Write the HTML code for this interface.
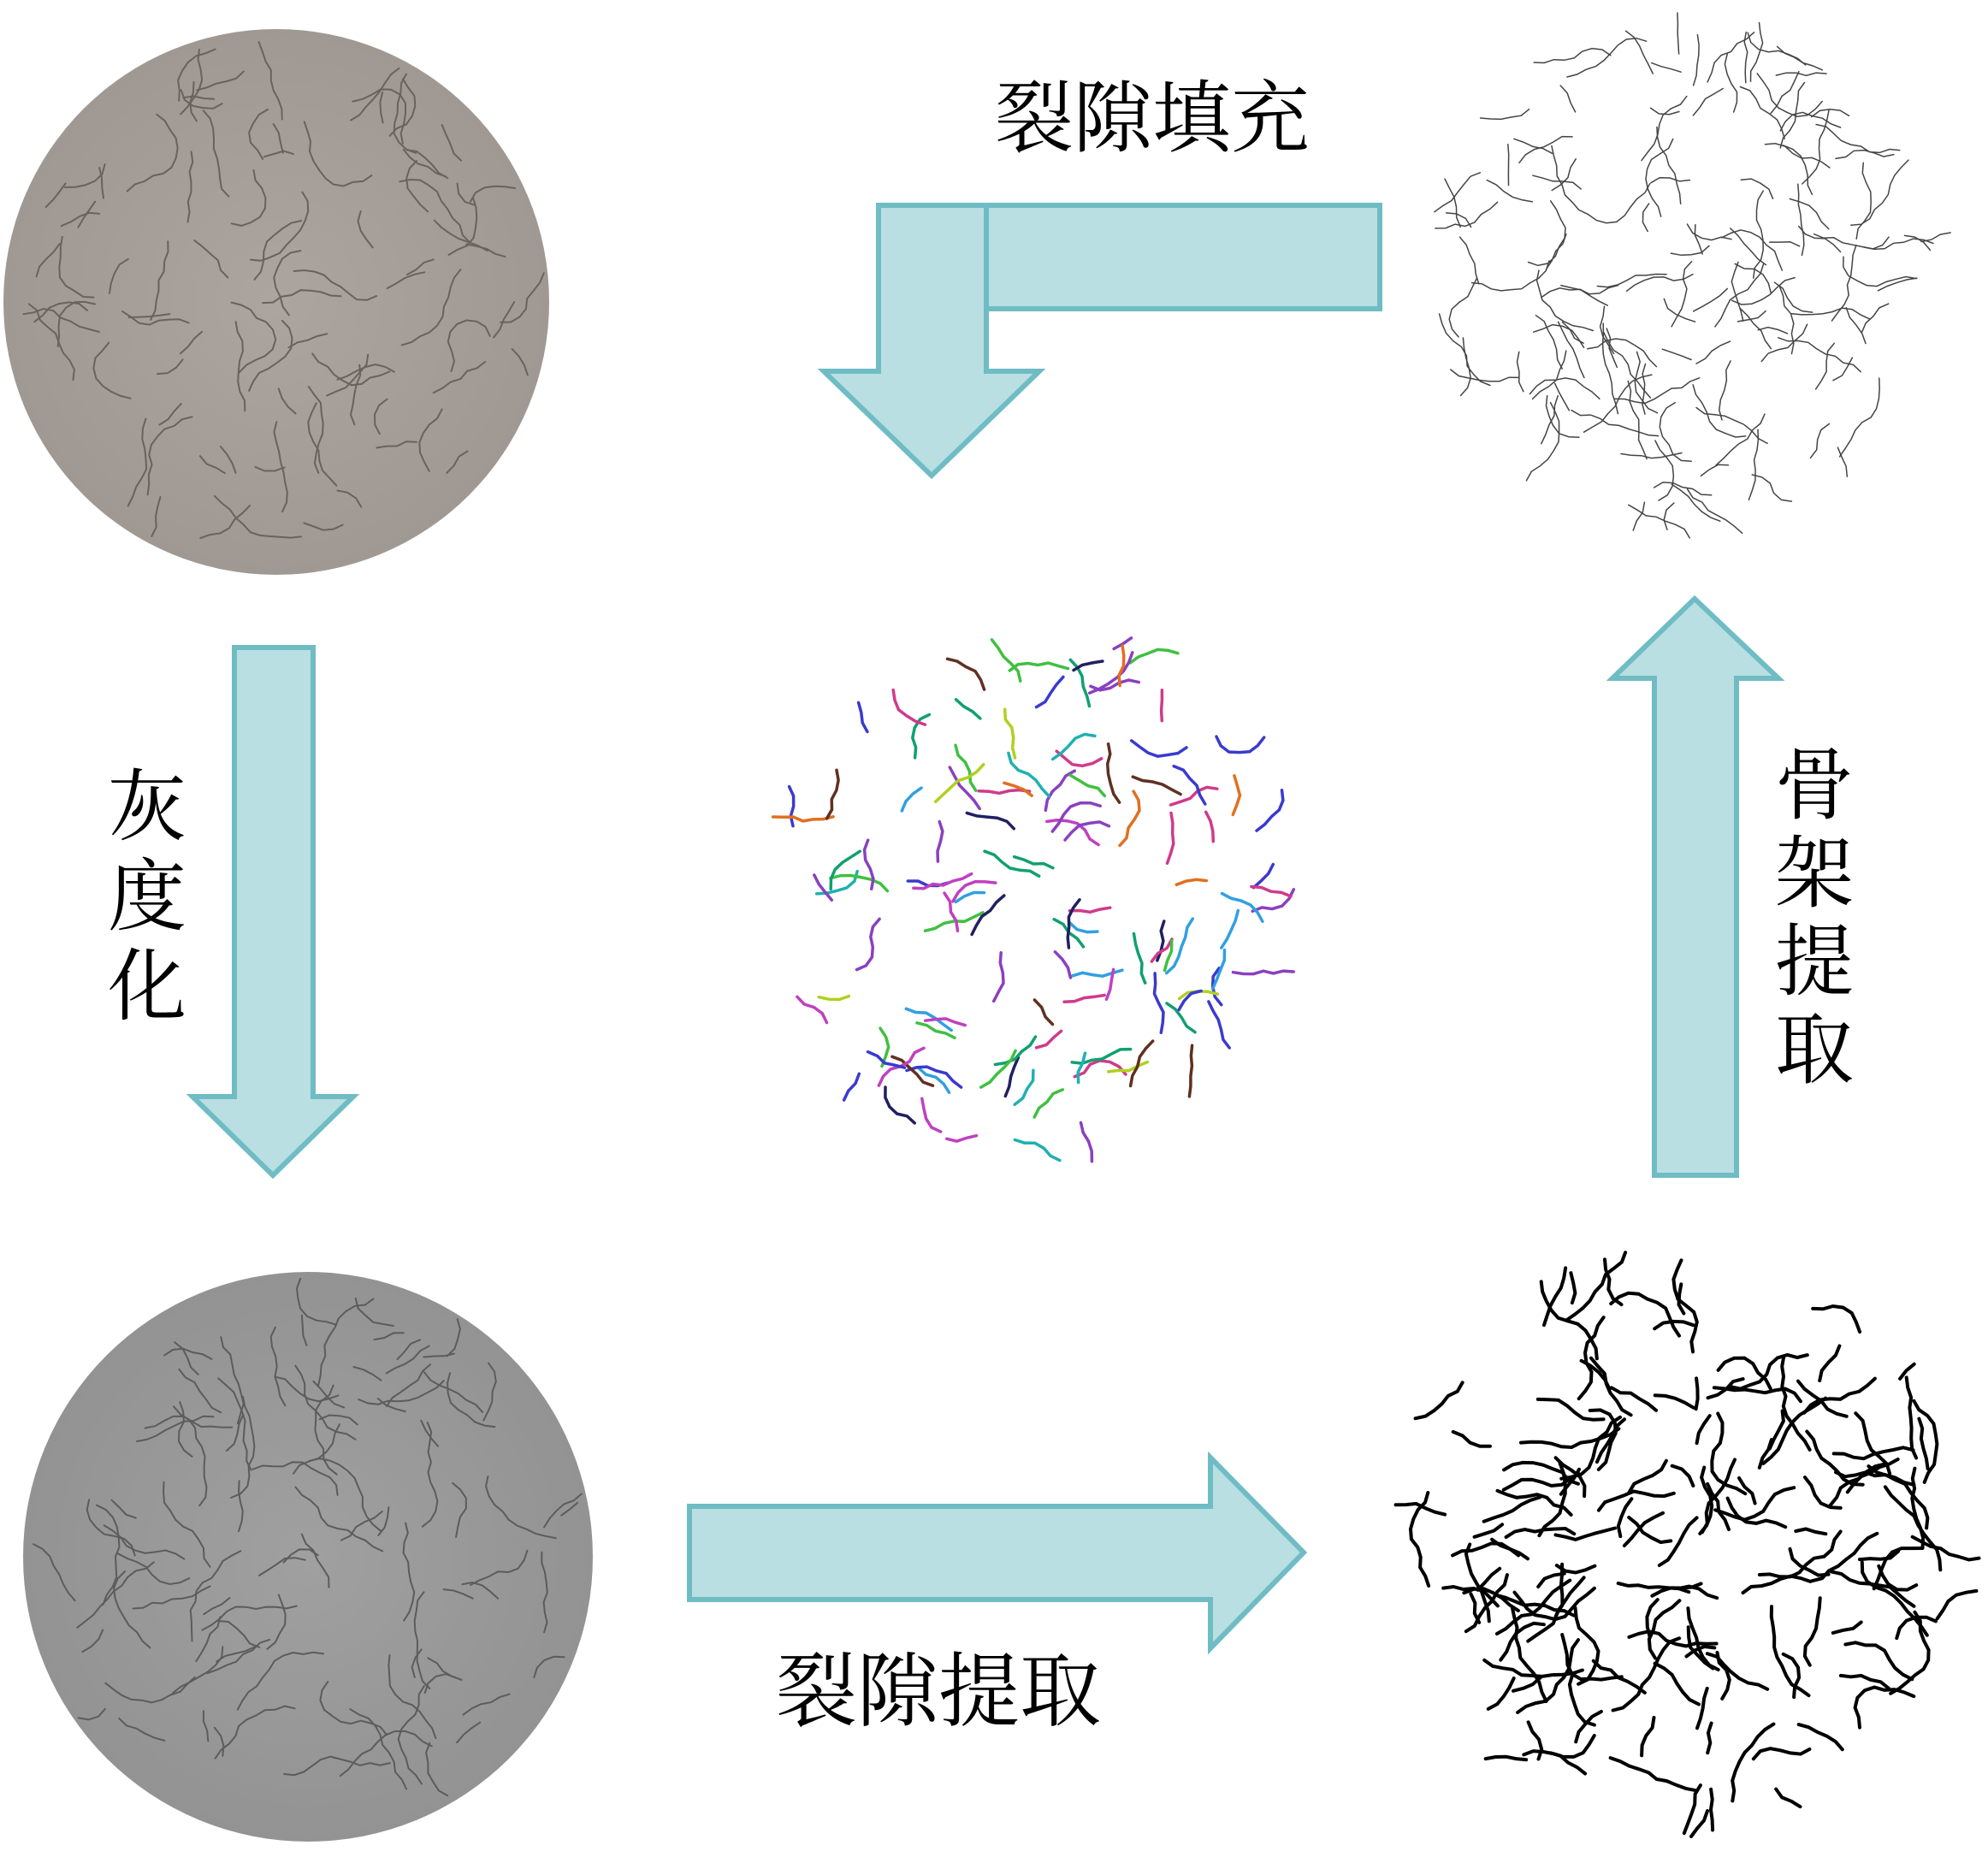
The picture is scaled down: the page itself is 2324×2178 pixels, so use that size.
<!DOCTYPE html>
<html><head><meta charset="utf-8"><style>
html,body{margin:0;padding:0;background:#fff;}
svg{display:block}
text{font-family:"Liberation Serif","Noto Serif CJK SC","Noto Sans CJK SC",serif;fill:#000}
</style></head><body>
<svg id="s" width="2324" height="2178" viewBox="0 0 2324 2178" xmlns="http://www.w3.org/2000/svg">
<defs>
<radialGradient id="g1" cx="50%" cy="50%" r="50%"><stop offset="0" stop-color="#aca59f"/><stop offset="1" stop-color="#a09993"/></radialGradient>
<radialGradient id="g2" cx="50%" cy="50%" r="50%"><stop offset="0" stop-color="#a0a0a0"/><stop offset="1" stop-color="#939393"/></radialGradient>
</defs>
<circle cx="323" cy="353" r="319" fill="url(#g1)"/>
<circle cx="360" cy="1820" r="333" fill="url(#g2)"/>
<g id="cracks"></g>
<g fill="#b9dfe2" stroke="#6fbcc4" stroke-width="6" stroke-linejoin="miter">
<polygon points="274,757 366,757 366,1282 413,1282 319,1374 225,1282 274,1282"/>
<polygon points="806,1761 1415,1761 1415,1704 1524,1815 1415,1927 1415,1870 806,1870"/>
<polygon points="1934,1374 2030,1374 2030,793 2079,793 1981,700 1885,793 1934,793"/>
<polygon points="1027,240 1153,240 1153,434 1215,434 1089,556 963,434 1027,434"/>
<rect x="1153" y="240" width="460" height="121"/>
</g>
<text x="1163" y="170" font-size="92">裂隙填充</text>
<text x="907" y="2010" font-size="95">裂隙提取</text>
<g font-size="92">
<text x="126" y="975">灰</text><text x="126" y="1080">度</text><text x="126" y="1185">化</text>
<text x="2075" y="950">骨</text><text x="2075" y="1053">架</text><text x="2075" y="1156">提</text><text x="2075" y="1259">取</text>
</g>
</svg>
<script>
var seed=7;function r(){seed=(seed*16807)%2147483647;return seed/2147483647;}
var g=document.getElementById('cracks');var NS="http://www.w3.org/2000/svg";
var cols=["#d03a8c","#3a3ad0","#20b0b0","#40c040","#8a40c0","#e07020","#202060","#b0d020","#c040c0","#30a0e0","#603020","#10a070"];
function crack(cx,cy,R,n,w,colfn,len){
 for(var i=0;i<n;i++){
  var a=r()*6.283,d=Math.sqrt(r())*R*0.92;
  var x=cx+Math.cos(a)*d,y=cy+Math.sin(a)*d,p="M"+x.toFixed(1)+","+y.toFixed(1);
  var dir=r()*6.283,L=3+Math.floor(r()*len);
  for(var k=0;k<L;k++){dir+=(r()-0.5)*1.2;x+=Math.cos(dir)*12;y+=Math.sin(dir)*12;
   if((x-cx)*(x-cx)+(y-cy)*(y-cy)>R*R)break;p+=" L"+x.toFixed(1)+","+y.toFixed(1);}
  var e=document.createElementNS(NS,"path");e.setAttribute("d",p);e.setAttribute("fill","none");
  e.setAttribute("stroke",colfn());e.setAttribute("stroke-width",w);e.setAttribute("stroke-linecap","round");g.appendChild(e);
 }
}
crack(323,353,315,90,2,function(){return "#6a635d"},9);
crack(360,1820,329,95,2,function(){return "#5c5c5c"},9);
crack(1978,319,311,140,1.5,function(){return "#444"},7);
crack(1971,1800,348,150,4,function(){return "#000"},8);
crack(1203,1045,333,120,3.5,function(){return cols[Math.floor(r()*cols.length)]},4);
</script>
</body></html>
